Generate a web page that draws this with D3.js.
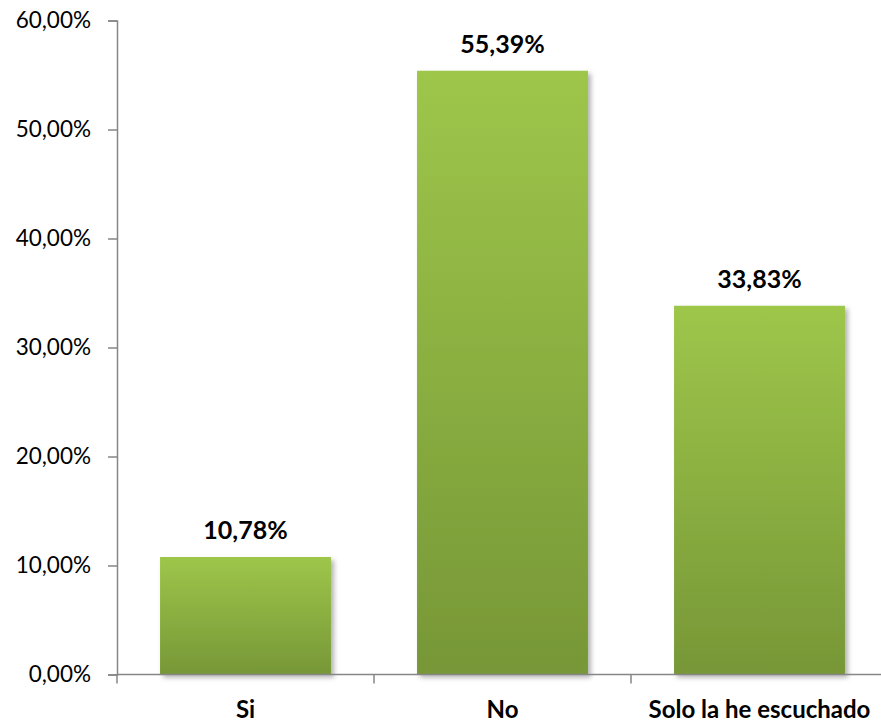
<!DOCTYPE html>
<html>
<head>
<meta charset="utf-8">
<script src="https://cdnjs.cloudflare.com/ajax/libs/d3/7.8.5/d3.min.js"></script>
<style>
  body { margin: 0; background: #fff; }
  svg { display: block; }
</style>
</head>
<body>
<div id="chart"></div>
<script>
// Survey answers and their share
const categories = ["Si", "No", "Solo la he escuchado"];
const values = [10.78, 55.39, 33.83];
const yTicks = [0, 10, 20, 30, 40, 50, 60];

const width = 881, height = 724;
const FONT = "Lato, 'Open Sans', sans-serif";
const fmt = v => v.toFixed(2).replace(".", ",") + "%";

const svg = d3.select("#chart").append("svg")
  .attr("width", width)
  .attr("height", height);

const defs = svg.append("defs");
const grad = defs.append("linearGradient")
  .attr("id", "barGrad")
  .attr("x1", 0).attr("y1", 0).attr("x2", 0).attr("y2", 1);
grad.append("stop").attr("offset", "0%").attr("stop-color", "#9ec64a");
grad.append("stop").attr("offset", "100%").attr("stop-color", "#779737");

const shadow = defs.append("filter")
  .attr("id", "shadow")
  .attr("x", "-10%").attr("y", "-10%")
  .attr("width", "130%").attr("height", "130%");
shadow.append("feDropShadow")
  .attr("dx", 3).attr("dy", 3)
  .attr("stdDeviation", 2.5)
  .attr("flood-color", "#000")
  .attr("flood-opacity", 0.3);

const x = d3.scaleBand()
  .domain(categories)
  .range([117, 888])
  .paddingInner(0.335)
  .paddingOuter(0.1675);

const y = d3.scaleLinear()
  .domain([0, 60])
  .range([674.5, 20.5]);

// bars
svg.append("g")
  .selectAll("rect")
  .data(values)
  .join("rect")
  .attr("x", (d, i) => x(categories[i]))
  .attr("y", d => y(d))
  .attr("width", x.bandwidth())
  .attr("height", d => y(0) - y(d))
  .attr("fill", "url(#barGrad)")
  .attr("filter", "url(#shadow)");

// y axis
const yAxis = svg.append("g")
  .attr("transform", "translate(117,0)")
  .call(d3.axisLeft(y).tickValues(yTicks).tickSize(9).tickPadding(17).tickFormat(fmt));
yAxis.select(".domain").attr("stroke", "#868686").attr("stroke-width", 1.5);
yAxis.selectAll(".tick line").attr("stroke", "#868686").attr("stroke-width", 1.5);
yAxis.selectAll(".tick text")
  .attr("fill", "#000")
  .style("font-family", FONT)
  .style("font-size", "22.5px");

// x axis: line plus ticks at category boundaries
const xAxis = svg.append("g");
xAxis.append("line")
  .attr("x1", 117).attr("x2", 888)
  .attr("y1", y(0)).attr("y2", y(0))
  .attr("stroke", "#868686").attr("stroke-width", 1.5);
const step = x.step();
xAxis.selectAll("line.tick")
  .data(d3.range(categories.length + 1))
  .join("line")
  .attr("class", "tick")
  .attr("x1", i => 117 + i * step)
  .attr("x2", i => 117 + i * step)
  .attr("y1", y(0))
  .attr("y2", y(0) + 9)
  .attr("stroke", "#868686").attr("stroke-width", 1.5);

xAxis.selectAll("text")
  .data(categories)
  .join("text")
  .attr("x", d => x(d) + x.bandwidth() / 2)
  .attr("y", 718)
  .attr("text-anchor", "middle")
  .style("font-family", FONT)
  .style("font-size", "24px")
  .style("font-weight", "bold")
  .text(d => d);

// value labels
svg.append("g")
  .selectAll("text")
  .data(values)
  .join("text")
  .attr("x", (d, i) => x(categories[i]) + x.bandwidth() / 2)
  .attr("y", d => y(d) - 18)
  .attr("text-anchor", "middle")
  .style("font-family", FONT)
  .style("font-size", "25px")
  .style("font-weight", "bold")
  .text(fmt);
</script>
</body>
</html>
